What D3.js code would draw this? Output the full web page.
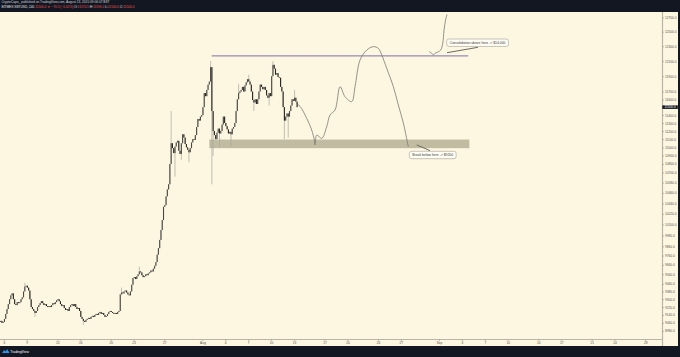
<!DOCTYPE html>
<html>
<head>
<meta charset="utf-8">
<script src="https://cdn.jsdelivr.net/npm/d3@7"></script>
<style>
  html, body { margin: 0; padding: 0; background: #131722; }
  svg { display: block; font-family: "Liberation Sans", Arial, sans-serif; }
</style>
</head>
<body>
<div id="chart"></div>
<script>
// 4h closes, first candle Jul 5 2020 12:00 UTC
var firstCandle = Date.UTC(2020, 6, 5, 12);
var firstOpen = 9070;
var closes = [
  9080, 9060, 9070,                          // Jul 5
  9100, 9150, 9200, 9250, 9300, 9340,        // Jul 6
  9360, 9300, 9250, 9240, 9270, 9260,        // Jul 7
  9270, 9300, 9320, 9380, 9430, 9440,        // Jul 8
  9420, 9390, 9300, 9220, 9200, 9180,        // Jul 9
  9160, 9180, 9220, 9240, 9260, 9280,        // Jul 10
  9260, 9240, 9250, 9230, 9220, 9230,        // Jul 11
  9220, 9240, 9260, 9250, 9270, 9290,        // Jul 12
  9300, 9280, 9250, 9230, 9240, 9210,        // Jul 13
  9190, 9200, 9180, 9220, 9240, 9250,        // Jul 14
  9230, 9250, 9220, 9200, 9210, 9180,        // Jul 15
  9120, 9100, 9080, 9070, 9090, 9100,        // Jul 16
  9110, 9100, 9120, 9130, 9120, 9140,        // Jul 17
  9150, 9140, 9160, 9170, 9150, 9160,        // Jul 18
  9140, 9120, 9130, 9150, 9170, 9180,        // Jul 19
  9170, 9160, 9150, 9160, 9150, 9170,        // Jul 20
  9180, 9350, 9370, 9360, 9380, 9390,        // Jul 21
  9370, 9350, 9340, 9380, 9450, 9520,        // Jul 22
  9530, 9510, 9540, 9560, 9590, 9580,        // Jul 23
  9550, 9530, 9540, 9560, 9550, 9570,        // Jul 24
  9580, 9600, 9590, 9620, 9650, 9690,        // Jul 25
  9770, 9840, 9930, 10040, 10150, 10300,     // Jul 26
  10320, 10420, 10500, 10560, 10800, 11050,  // Jul 27
  10990, 10930, 11010, 11060, 11080, 10960,  // Jul 28
  10920, 11050, 11160, 11120, 11040, 11000,  // Jul 29
  10970, 10940, 10990, 11060, 11100, 11090,  // Jul 30
  11150, 11250, 11350, 11330, 11380, 11400,  // Jul 31
  11500, 11680, 11640, 11720, 11790, 11830,  // Aug 1
  12020, 11450, 11200, 11150, 11100, 11180,  // Aug 2
  11230, 11170, 11200, 11280, 11380, 11300,  // Aug 3
  11260, 11220, 11170, 11190, 11160, 11230,  // Aug 4
  11250, 11300, 11450, 11600, 11680, 11700,  // Aug 5
  11720, 11760, 11700, 11780, 11820, 11860,  // Aug 6
  11830, 11790, 11700, 11590, 11560, 11600,  // Aug 7
  11540, 11600, 11700, 11790, 11760, 11730,  // Aug 8
  11760, 11720, 11650, 11620, 11680, 11640,  // Aug 9
  11900, 12050, 12000, 11920, 11940, 11890,  // Aug 10
  11880, 11760, 11700, 11500, 11330, 11380,  // Aug 11
  11420, 11380, 11450, 11520, 11600, 11580,  // Aug 12
  11620, 11570, 11500                        // Aug 13
];

// wicks that stick out of the bodies: [candle start, high, low]
var wicks = [
  ['2020-07-08T16:00Z', 9470, null],
  ['2020-07-10T00:00Z', null, 9120],
  ['2020-07-16T08:00Z', null, 9040],
  ['2020-07-21T08:00Z', 9420, null],
  ['2020-07-23T16:00Z', 9640, null],
  ['2020-07-27T20:00Z', 11450, null],
  ['2020-07-28T08:00Z', null, 10650],
  ['2020-07-29T04:00Z', null, 10850],
  ['2020-07-30T04:00Z', null, 10820],
  ['2020-08-02T00:00Z', 12100, null],
  ['2020-08-02T04:00Z', null, 10560],
  ['2020-08-02T08:00Z', null, 10900],
  ['2020-08-03T04:00Z', null, 11000],
  ['2020-08-04T16:00Z', null, 11010],
  ['2020-08-05T16:00Z', 11800, null],
  ['2020-08-07T00:00Z', 11920, null],
  ['2020-08-07T16:00Z', null, 11450],
  ['2020-08-09T16:00Z', null, 11520],
  ['2020-08-10T04:00Z', 12100, null],
  ['2020-08-11T16:00Z', null, 11100],
  ['2020-08-12T04:00Z', null, 11120],
  ['2020-08-13T00:00Z', 11720, null]
];

// drawn projection (time, price)
var pathA = [
  ['2020-08-13T06:30Z', 11549], ['2020-08-13T19:10Z', 11510], ['2020-08-14T16:00Z', 11359],
  ['2020-08-15T07:50Z', 11213], ['2020-08-15T16:00Z', 11090], ['2020-08-15T18:15Z', 11030],
  ['2020-08-15T23:40Z', 11150], ['2020-08-16T15:20Z', 11110], ['2020-08-17T07:00Z', 11254],
  ['2020-08-17T17:30Z', 11401], ['2020-08-18T09:10Z', 11463], ['2020-08-19T01:00Z', 11762],
  ['2020-08-19T16:40Z', 11633], ['2020-08-20T13:40Z', 11570], ['2020-08-21T00:00Z', 11762],
  ['2020-08-21T15:50Z', 12115], ['2020-08-22T12:50Z', 12249], ['2020-08-23T09:30Z', 12295],
  ['2020-08-24T01:20Z', 12272], ['2020-08-24T12:00Z', 12182], ['2020-08-25T03:40Z', 12004],
  ['2020-08-26T00:30Z', 11762], ['2020-08-26T16:10Z', 11527], ['2020-08-27T07:50Z', 11300],
  ['2020-08-27T23:30Z', 11008]
];
var pathB = [
  ['2020-08-30T17:30Z', 12226], ['2020-08-31T01:10Z', 12205], ['2020-08-31T06:10Z', 12182],
  ['2020-08-31T11:30Z', 12205], ['2020-08-31T21:50Z', 12226], ['2020-09-01T05:20Z', 12249],
  ['2020-09-01T11:40Z', 12339], ['2020-09-01T15:50Z', 12523], ['2020-09-01T20:30Z', 12662],
  ['2020-09-02T01:10Z', 12740]
];

var resistance = { from: '2020-08-02T05:30Z', to: '2020-09-04T20:00Z', price: 12170 };
var zone = { from: '2020-08-01T22:00Z', to: '2020-09-04T23:20Z', lo: 10990, hi: 11095 };
var notes = [
  { text: 'Consolidation above here -> $14,000', at: ['2020-09-02T00:15Z', 12399],
    line: [['2020-09-02T01:10Z', 12213], ['2020-09-06T02:40Z', 12286]] },
  { text: 'Break below here -> $9200', at: ['2020-08-28T02:40Z', 10952],
    line: [['2020-08-29T02:00Z', 11030], ['2020-08-30T19:40Z', 10960]] }
];

var priceTicks = [12700, 12500, 12300, 12100, 11900, 11700, 11600, 11400, 11300, 11200, 11100,
  11000, 10900, 10800, 10700, 10580, 10460, 10340, 10220, 10100, 9980, 9860, 9760, 9660,
  9560, 9460, 9380, 9300, 9220, 9140, 9060, 8980];
var lastPrice = 11500;

var dateTicks = ['2020-07-06', '2020-07-09', '2020-07-13', '2020-07-16', '2020-07-20', '2020-07-23',
  '2020-07-27', '2020-08-01', '2020-08-04', '2020-08-07', '2020-08-10', '2020-08-13', '2020-08-17',
  '2020-08-20', '2020-08-24', '2020-08-27', '2020-09-01', '2020-09-04', '2020-09-07', '2020-09-10',
  '2020-09-14', '2020-09-17', '2020-09-21', '2020-09-24', '2020-09-28'];
var dateLabels = ['6', '9', '13', '16', '20', '23', '27', 'Aug', '4', '7', '10', '13', '17',
  '20', '24', '27', 'Sep', '4', '7', '10', '14', '17', '21', '24', '28'];

var W = 680, H = 357;
var plotR = 662, plotT = 12, plotB = 339;
var H4 = 4 * 3600 * 1000;

var x = d3.scaleUtc()
  .domain([new Date(Date.UTC(2020, 6, 5, 12)), new Date(Date.UTC(2020, 8, 30, 4))])
  .range([0, 661.7]);
var y = d3.scaleLog().domain([8900, 12775]).range([plotB, plotT]);

var candles = closes.map(function(c, i) {
  var o = i === 0 ? firstOpen : closes[i - 1];
  return { t: new Date(firstCandle + i * H4), o: o, c: c,
           h: Math.max(o, c), l: Math.min(o, c) };
});
wicks.forEach(function(w) {
  var t = new Date(w[0]).getTime();
  var k = candles.find(function(d) { return d.t.getTime() === t; });
  if (!k) return;
  if (w[1] != null) k.h = w[1];
  if (w[2] != null) k.l = w[2];
});

var svg = d3.select('#chart').append('svg')
  .attr('width', W).attr('height', H);

svg.append('rect').attr('width', W).attr('height', H).attr('fill', '#131722');
svg.append('rect').attr('x', 0).attr('y', plotT).attr('width', 678).attr('height', 346 - plotT)
  .attr('fill', '#fdf6e1');

var plot = svg.append('g');

// zone
plot.append('rect')
  .attr('x', x(new Date(zone.from)))
  .attr('width', x(new Date(zone.to)) - x(new Date(zone.from)))
  .attr('y', y(zone.hi))
  .attr('height', y(zone.lo) - y(zone.hi))
  .attr('fill', '#857f63').attr('opacity', 0.5);

// candles
var cw = 1.1;
var cg = plot.append('g');
cg.selectAll('line').data(candles).enter().append('line')
  .attr('x1', function(d) { return x(new Date(d.t.getTime() + H4 / 2)); })
  .attr('x2', function(d) { return x(new Date(d.t.getTime() + H4 / 2)); })
  .attr('y1', function(d) { return y(d.h); })
  .attr('y2', function(d) { return y(d.l); })
  .attr('stroke', '#a9a79c').attr('stroke-width', 0.7);
cg.selectAll('rect').data(candles).enter().append('rect')
  .attr('x', function(d) { return x(new Date(d.t.getTime() + H4 / 2)) - cw / 2; })
  .attr('width', cw)
  .attr('y', function(d) { return y(Math.max(d.o, d.c)); })
  .attr('height', function(d) { return Math.max(0.6, y(Math.min(d.o, d.c)) - y(Math.max(d.o, d.c))); })
  .attr('fill', function(d) { return d.c >= d.o ? '#4a4a46' : '#26261f'; });

// resistance line
plot.append('line')
  .attr('x1', x(new Date(resistance.from))).attr('x2', x(new Date(resistance.to)))
  .attr('y1', y(resistance.price)).attr('y2', y(resistance.price))
  .attr('stroke', '#6f62a8').attr('stroke-width', 0.9);

// projection
var line = d3.line()
  .x(function(d) { return x(new Date(d[0])); })
  .y(function(d) { return y(d[1]); })
  .curve(d3.curveCatmullRom);
[pathA, pathB].forEach(function(p) {
  plot.append('path').attr('d', line(p))
    .attr('fill', 'none').attr('stroke', '#7a7a72').attr('stroke-width', 0.8);
});

// callouts
notes.forEach(function(n) {
  plot.append('line')
    .attr('x1', x(new Date(n.line[0][0]))).attr('y1', y(n.line[0][1]))
    .attr('x2', x(new Date(n.line[1][0]))).attr('y2', y(n.line[1][1]))
    .attr('stroke', '#6a6a62').attr('stroke-width', 1);
  var g = plot.append('g')
    .attr('transform', 'translate(' + x(new Date(n.at[0])) + ',' + y(n.at[1]) + ')');
  var t = g.append('text').attr('x', 3).attr('y', 4.9)
    .attr('font-size', 3.4).attr('fill', '#3a3a3a').text(n.text);
  var bw = t.node().getComputedTextLength() + 6;
  g.insert('rect', 'text').attr('width', bw).attr('height', 7.4).attr('rx', 2.2)
    .attr('fill', '#fffdf4').attr('stroke', '#8c8c84').attr('stroke-width', 0.5);
});

// axes
svg.append('line').attr('x1', 0).attr('x2', plotR).attr('y1', plotB + 0.5).attr('y2', plotB + 0.5)
  .attr('stroke', '#b9b6a8').attr('stroke-width', 1);
svg.append('line').attr('x1', plotR + 0.5).attr('x2', plotR + 0.5).attr('y1', plotT).attr('y2', 346)
  .attr('stroke', '#b9b6a8').attr('stroke-width', 1.2);

var yAxis = svg.append('g').attr('transform', 'translate(' + (plotR + 0.5) + ',0)')
  .call(d3.axisRight(y).tickValues(priceTicks).tickSize(1.5).tickPadding(1)
    .tickFormat(d3.format('.1f')));
yAxis.select('.domain').remove();
yAxis.selectAll('line').attr('stroke', '#8a887c').attr('stroke-width', 0.5);
yAxis.selectAll('text').attr('font-size', 3.2).attr('fill', '#55554f');

var tagY = y(lastPrice);
svg.append('rect').attr('x', plotR + 0.3).attr('y', tagY - 1.8).attr('width', 15.5).attr('height', 3.6)
  .attr('fill', '#131722');
svg.append('text').attr('x', plotR + 2.5).attr('y', tagY + 1.1).attr('font-size', 3.2)
  .attr('fill', '#ffffff').text(d3.format('.1f')(lastPrice));

var xAxis = svg.append('g').attr('transform', 'translate(0,' + (plotB + 0.5) + ')')
  .call(d3.axisBottom(x).tickValues(dateTicks.map(function(d) { return new Date(d + 'T00:00Z'); }))
    .tickSize(1.5).tickPadding(1)
    .tickFormat(function(d, i) { return dateLabels[i]; }));
xAxis.select('.domain').remove();
xAxis.selectAll('line').attr('stroke', '#8a887c').attr('stroke-width', 0.5);
xAxis.selectAll('text').attr('font-size', 3.2).attr('fill', '#55554f');

// header
svg.append('text').attr('x', 1.5).attr('y', 3.4).attr('font-size', 3.2).attr('fill', '#d1d4dc')
  .text('CryptoCapo_ published on TradingView.com, August 13, 2020 09:06:07 BST');
var h2 = svg.append('text').attr('x', 1.5).attr('y', 8).attr('font-size', 3.2).attr('fill', '#e8e8e8');
h2.append('tspan').text('BITMEX:XBTUSD, 240 ');
h2.append('tspan').attr('fill', '#ef5350').text('11500.0 \u25BC \u221270.5 (\u22120.61%)');
h2.append('tspan').text(' O:');
h2.append('tspan').attr('fill', '#ef5350').text('11570.5');
h2.append('tspan').text(' H:');
h2.append('tspan').attr('fill', '#ef5350').text('11590.0');
h2.append('tspan').text(' L:');
h2.append('tspan').attr('fill', '#ef5350').text('11500.0');
h2.append('tspan').text(' C:');
h2.append('tspan').attr('fill', '#ef5350').text('11500.0');

// footer logo
var logo = svg.append('g').attr('transform', 'translate(2,349)');
logo.append('path').attr('d', 'M0,4 L2.2,1 L3.6,2.6 L5.4,0.2 L7.6,4 Z').attr('fill', '#2196f3');
svg.append('text').attr('x', 10.2).attr('y', 352.6).attr('font-size', 3.4).attr('fill', '#ffffff')
  .text('TradingView');
</script>
</body>
</html>
